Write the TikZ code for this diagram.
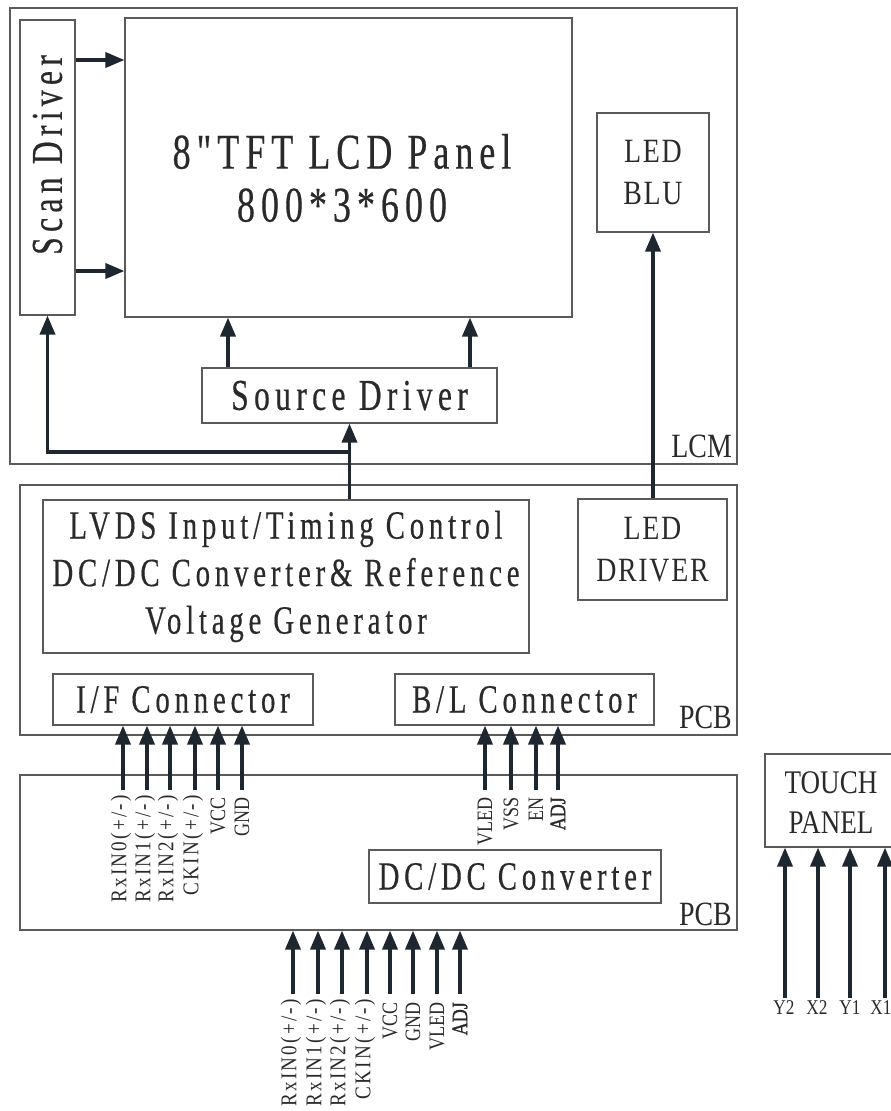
\documentclass[tikz,border=0pt]{standalone}
\usepackage{fontspec}
\setmainfont{Liberation Serif}
\newfontfamily\spf[FakeStretch=0.72,LetterSpace=12,FakeBold=0.4]{Liberation Serif}
\newfontfamily\sps[FakeStretch=0.85,LetterSpace=10]{Liberation Serif}
\newfontfamily\nrf[FakeStretch=0.82]{Liberation Serif}
\newfontfamily\nrb[FakeStretch=0.82,FakeBold=1.2]{Liberation Serif}
\newfontfamily\nrs[FakeStretch=0.82,LetterSpace=5]{Liberation Serif}
\usetikzlibrary{arrows.meta,calc}
\definecolor{boxc}{HTML}{5A5A5A}
\definecolor{arrc}{HTML}{1E2630}
\definecolor{txtc}{HTML}{2A2A2A}
\begin{document}
\begin{tikzpicture}[x=1pt,y=-1pt,
  box/.style={draw=boxc, line width=1.1pt, inner sep=0pt},
  arr/.style={draw=arrc, line width=3.6pt, -{Triangle[length=19pt,width=15pt]}},
  big/.style={font=\spf\fontsize{44}{48}\selectfont, text=txtc},
  mid/.style={font=\spf\fontsize{40}{47.5}\selectfont, text=txtc},
  narrow/.style={font=\nrs\fontsize{34}{42}\selectfont, text=txtc},
  lab/.style={font=\sps\fontsize{22.5}{23}\selectfont, text=txtc, rotate=90, anchor=east, inner sep=0pt},
  labn/.style={font=\nrf\fontsize{22}{22}\selectfont, text=txtc, rotate=90, anchor=east, inner sep=0pt},
  labb/.style={font=\nrb\fontsize{22}{22}\selectfont, text=txtc, rotate=90, anchor=east, inner sep=0pt},
  tl/.style={font=\nrf\fontsize{21}{22}\selectfont, text=txtc, inner sep=0pt}
]
\useasboundingbox (0,0) rectangle (891,1111);
% LCM
\node[box, minimum width=727pt, minimum height=456pt] (lcm) at (373.5,236) {};
\node[box, minimum width=55pt, minimum height=295pt] (scan) at (47.5,167.5) {};
\node[big, rotate=90] (scant) at (47.5,155) {Scan Driver};
\node[box, minimum width=447pt, minimum height=299pt] (panel) at (348.5,167.5) {};
\node[font=\spf\fontsize{50}{53}\selectfont, text=txtc, align=center] (panelt) at (342,178) {8"TFT LCD Panel\\800*3*600};
\node[box, minimum width=295pt, minimum height=55pt, big] (src) at (349.5,395.5) {Source Driver};
\node[box, minimum width=112pt, minimum height=119pt, narrow, align=center] (blu) at (653,172.5) {LED\\BLU};
\node[font=\nrf\fontsize{34}{40}\selectfont, text=txtc, anchor=base east, inner sep=0pt] (lcmt) at (732,457) {LCM};
% PCB 1
\node[box, minimum width=717pt, minimum height=250pt] (pcb1) at (378.5,610) {};
\node[box, minimum width=486pt, minimum height=153pt, mid, align=center] (lvds) at (286,576.5) {LVDS Input/Timing Control\\DC/DC Converter\& Reference\\Voltage Generator};
\node[box, minimum width=149pt, minimum height=101pt, narrow, align=center] (ledd) at (652.5,549.5) {LED\\DRIVER};
\node[box, minimum width=260pt, minimum height=51pt, mid] (ifc) at (183,699.5) {I/F Connector};
\node[box, minimum width=259pt, minimum height=51pt, mid] (blc) at (524.5,699.5) {B/L Connector};
\node[font=\nrf\fontsize{34}{40}\selectfont, text=txtc, anchor=base east, inner sep=0pt] (pcbt1) at (732,728) {PCB};
% PCB 2
\node[box, minimum width=717pt, minimum height=155pt] (pcb2) at (378.5,852.5) {};
\node[box, minimum width=292pt, minimum height=53pt, mid] (dcdc) at (515,876.5) {DC/DC Converter};
\node[font=\nrf\fontsize{34}{40}\selectfont, text=txtc, anchor=base east, inner sep=0pt] (pcbt2) at (732,925) {PCB};
% Touch panel
\node[box, minimum width=130pt, minimum height=93pt] (touch) at (830,800.5) {};
\node[font=\nrf\fontsize{33}{40}\selectfont, text=txtc, align=center] (toucht) at (831,803) {TOUCH\\PANEL};

% connectors in LCM
\coordinate (s1) at (0,60);
\coordinate (s2) at (0,271);
\draw[arr] (scan.east |- s1) -- (panel.west |- s1);
\draw[arr] (scan.east |- s2) -- (panel.west |- s2);
\coordinate (p1) at (228,0);
\coordinate (p2) at (470,0);
\draw[arr] (src.north -| p1) -- (panel.south -| p1);
\draw[arr] (src.north -| p2) -- (panel.south -| p2);
\coordinate (yj) at (0,452);
\coordinate (jn) at (src.south |- yj);
\draw[arr] (lvds.north -| src.south) -- (src.south);
\draw[arr] (jn) -| (scan.south);
\draw[arr] (ledd.north -| blu.south) -- (blu.south);

% I/F connector inputs
\coordinate (a1) at (123,790);
\coordinate (a2) at (147,790);
\coordinate (a3) at (170,790);
\coordinate (a4) at (195,790);
\coordinate (a5) at (218,790);
\coordinate (a6) at (242,790);
\foreach \n in {a1,a2,a3,a4,a5,a6} {\draw[arr] (\n) -- (\n |- ifc.south);}
\node[lab] (la1) at (121,795) {RxIN0(+/-)};
\node[lab] (la2) at (145,795) {RxIN1(+/-)};
\node[lab] (la3) at (168,795) {RxIN2(+/-)};
\node[lab] (la4) at (193,795) {CKIN(+/-)};
\node[labn] (la5) at (218,797) {VCC};
\node[labn] (la6) at (242,797) {GND};

% B/L connector inputs
\coordinate (b1) at (485,790);
\coordinate (b2) at (511,790);
\coordinate (b3) at (536,790);
\coordinate (b4) at (558,790);
\foreach \n in {b1,b2,b3,b4} {\draw[arr] (\n) -- (\n |- blc.south);}
\node[labn] (lb1) at (485,797) {VLED};
\node[labn] (lb2) at (511,797) {VSS};
\node[labn] (lb3) at (536,797) {EN};
\node[labb] (lb4) at (558,797) {ADJ};

% bottom inputs
\coordinate (c1) at (293,994);
\coordinate (c2) at (318,994);
\coordinate (c3) at (342,994);
\coordinate (c4) at (367,994);
\coordinate (c5) at (390,994);
\coordinate (c6) at (413,994);
\coordinate (c7) at (437,994);
\coordinate (c8) at (460,994);
\foreach \n in {c1,c2,c3,c4,c5,c6,c7,c8} {\draw[arr] (\n) -- (\n |- pcb2.south);}
\node[lab] (lc1) at (291,999) {RxIN0(+/-)};
\node[lab] (lc2) at (316,999) {RxIN1(+/-)};
\node[lab] (lc3) at (340,999) {RxIN2(+/-)};
\node[lab] (lc4) at (365,999) {CKIN(+/-)};
\node[labn] (lc5) at (390,1002) {VCC};
\node[labn] (lc6) at (413,1002) {GND};
\node[labn] (lc7) at (437,1002) {VLED};
\node[labb] (lc8) at (460,1002) {ADJ};

% touch panel inputs
\coordinate (t1) at (785,998);
\coordinate (t2) at (818,998);
\coordinate (t3) at (850,998);
\coordinate (t4) at (885,998);
\foreach \n in {t1,t2,t3,t4} {\draw[arr] (\n) -- (\n |- touch.south);}
\node[tl] (lt1) at (784,1008) {Y2};
\node[tl] (lt2) at (817,1008) {X2};
\node[tl] (lt3) at (850,1008) {Y1};
\node[tl] (lt4) at (881,1008) {X1};
\end{tikzpicture}
\end{document}
